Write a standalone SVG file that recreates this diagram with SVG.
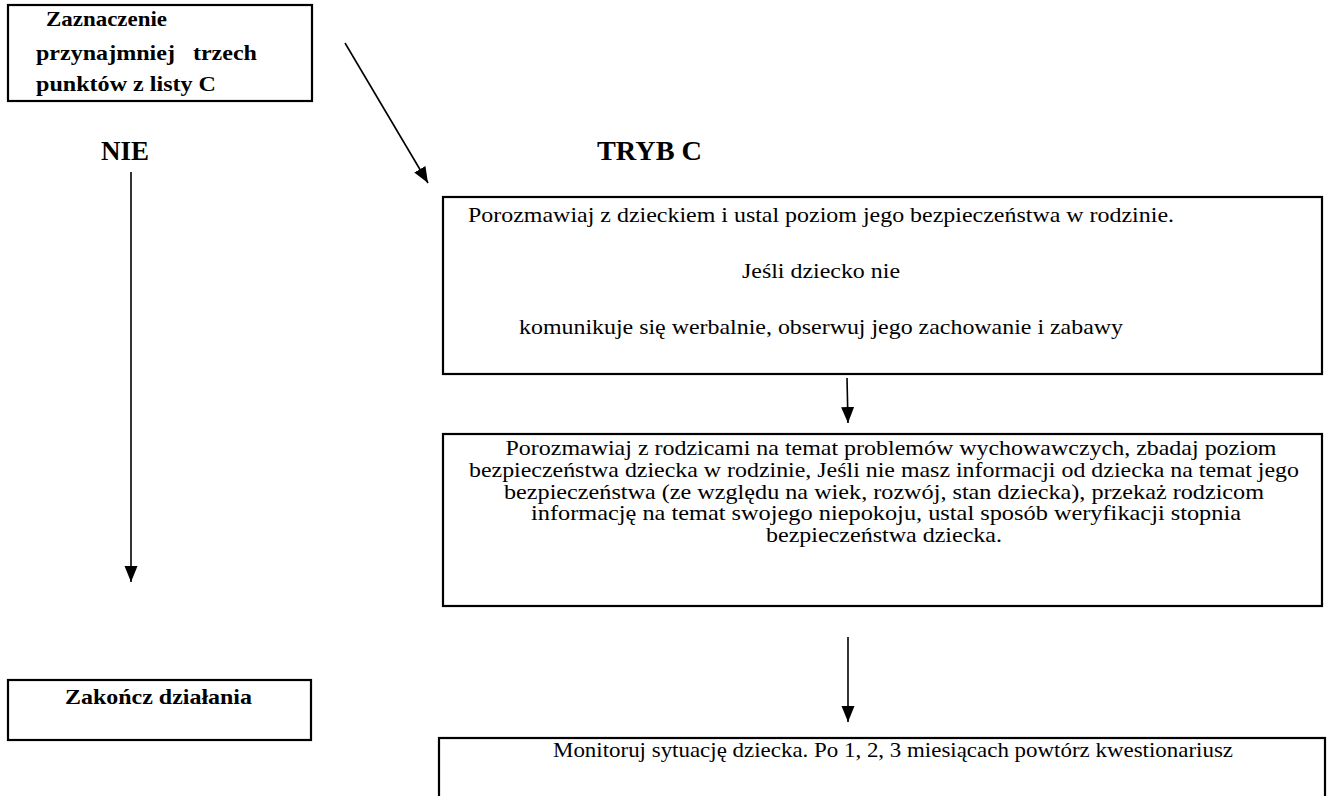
<svg xmlns="http://www.w3.org/2000/svg" width="1333" height="796" viewBox="0 0 1333 796">
<style>
.box{fill:#fff;stroke:#000;stroke-width:2.2}
.t{font-family:"Liberation Serif","Times New Roman",serif;font-size:21px;fill:#000}
.b{font-family:"Liberation Serif","Times New Roman",serif;font-weight:bold;font-size:21px;fill:#000}
.h{font-family:"Liberation Serif","Times New Roman",serif;font-weight:bold;font-size:28px;fill:#000}
.c{fill:none;stroke:#000;stroke-width:1.6}
</style>
<defs>
<marker id="ah" markerUnits="userSpaceOnUse" markerWidth="16" markerHeight="16" viewBox="0 0 16 16" refX="16" refY="8" orient="auto">
<path d="M0,1.5 L16,8 L0,14.5 Z" fill="#000"/>
</marker>
</defs>
<rect width="1333" height="796" fill="#fff"/>
<g id="start">
<rect class="box" x="8" y="5" width="304" height="96"/>
<text class="b" x="46" y="26" textLength="121" lengthAdjust="spacingAndGlyphs">Zaznaczenie</text>
<text class="b" x="36" y="60" textLength="221" lengthAdjust="spacingAndGlyphs" xml:space="preserve">przynajmniej   trzech</text>
<text class="b" x="36" y="91" textLength="180" lengthAdjust="spacingAndGlyphs">punktów z listy C</text>
</g>
<g id="label-nie">
<text class="h" x="101" y="160" textLength="48" lengthAdjust="spacingAndGlyphs">NIE</text>
</g>
<g id="label-tryb">
<text class="h" x="597" y="160" textLength="105" lengthAdjust="spacingAndGlyphs">TRYB C</text>
</g>
<g id="step1">
<rect class="box" x="443" y="197" width="879" height="177"/>
<text class="t" x="821" y="222" text-anchor="middle" textLength="706" lengthAdjust="spacingAndGlyphs">Porozmawiaj z dzieckiem i ustal poziom jego bezpieczeństwa w rodzinie.</text>
<text class="t" x="821" y="278" text-anchor="middle" textLength="158" lengthAdjust="spacingAndGlyphs">Jeśli dziecko nie</text>
<text class="t" x="821" y="334" text-anchor="middle" textLength="604" lengthAdjust="spacingAndGlyphs">komunikuje się werbalnie, obserwuj jego zachowanie i zabawy</text>
</g>
<g id="step2">
<rect class="box" x="443" y="434" width="879" height="172"/>
<text class="t" x="891" y="455" text-anchor="middle" textLength="771" lengthAdjust="spacingAndGlyphs">Porozmawiaj z rodzicami na temat problemów wychowawczych, zbadaj poziom</text>
<text class="t" x="884" y="477" text-anchor="middle" textLength="830" lengthAdjust="spacingAndGlyphs">bezpieczeństwa dziecka w rodzinie, Jeśli nie masz informacji od dziecka na temat jego</text>
<text class="t" x="884" y="498.5" text-anchor="middle" textLength="760" lengthAdjust="spacingAndGlyphs">bezpieczeństwa (ze względu na wiek, rozwój, stan dziecka), przekaż rodzicom</text>
<text class="t" x="886" y="520" text-anchor="middle" textLength="710" lengthAdjust="spacingAndGlyphs">informację na temat swojego niepokoju, ustal sposób weryfikacji stopnia</text>
<text class="t" x="884" y="541.5" text-anchor="middle" textLength="236" lengthAdjust="spacingAndGlyphs">bezpieczeństwa dziecka.</text>
</g>
<g id="end">
<rect class="box" x="8" y="680" width="303" height="60"/>
<text class="b" x="65" y="704" textLength="187" lengthAdjust="spacingAndGlyphs">Zakończ działania</text>
</g>
<g id="step3">
<rect class="box" x="439" y="738" width="886" height="70"/>
<text class="t" x="893" y="757" text-anchor="middle" font-size="23" textLength="680" lengthAdjust="spacingAndGlyphs">Monitoruj sytuację dziecka. Po 1, 2, 3 miesiącach powtórz kwestionariusz</text>
</g>
<g id="connectors">
<line class="c" x1="345" y1="43" x2="428" y2="183" marker-end="url(#ah)"/>
<line class="c" x1="131" y1="172" x2="131" y2="582" marker-end="url(#ah)"/>
<line class="c" x1="847" y1="378" x2="848" y2="423" marker-end="url(#ah)"/>
<line class="c" x1="848" y1="637" x2="848" y2="722" marker-end="url(#ah)"/>
</g>
</svg>
